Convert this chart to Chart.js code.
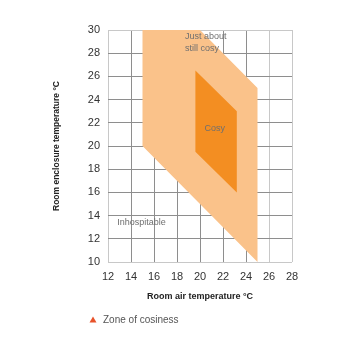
<!DOCTYPE html>
<html>
<head>
<meta charset="utf-8">
<script src="https://cdn.jsdelivr.net/npm/chart.js@4"></script>
<style>
  html, body { margin: 0; padding: 0; background: #fff; }
  #wrap { width: 351px; height: 351px; }
</style>
</head>
<body>
<div id="wrap"><canvas id="chart" width="351" height="351"></canvas></div>
<script>
// zone outlines (air temp x, enclosure temp y)
const outerZoneX = [15, 20, 25, 25, 15, 15];
const outerZoneY = [30, 30, 25, 10, 20, 30];
const innerZoneX = [19.6, 23.2, 23.2, 19.6, 19.6];
const innerZoneY = [26.5, 23, 16, 19.5, 26.5];

// text labels inside the plot
const noteText = ['Just about', 'still cosy', 'Cosy', 'Inhospitable'];
const noteX = [18.7, 18.7, 20.4, 12.8];
const noteY = [29.4, 28.4, 21.5, 13.4];

const xTicks = [12, 14, 16, 18, 20, 22, 24, 26, 28];
const yTicks = [10, 12, 14, 16, 18, 20, 22, 24, 26, 28, 30];
const legendText = 'Zone of cosiness';

const sans = "'Liberation Sans', Arial, sans-serif";

function toPoints(xs, ys) {
    return xs.map((x, i) => ({x: x, y: ys[i]}));
}

// Notes drawn at data positions
const notesPlugin = {
    id: 'notes',
    afterDatasetsDraw(chart) {
        const ctx = chart.ctx;
        const xs = chart.scales.x, ys = chart.scales.y;
        ctx.save();
        ctx.font = '9px ' + sans;
        ctx.fillStyle = '#6f6f6f';
        ctx.textBaseline = 'middle';
        ctx.textAlign = 'left';
        noteText.forEach((t, i) => {
            ctx.fillText(t, xs.getPixelForValue(noteX[i]), ys.getPixelForValue(noteY[i]));
        });
        ctx.restore();
    }
};

// small legend under the axis title
const legendPlugin = {
    id: 'cosyLegend',
    afterDraw(chart) {
        const ctx = chart.ctx;
        ctx.save();
        ctx.fillStyle = '#e8532b';
        ctx.beginPath();
        ctx.moveTo(93, 316.5);
        ctx.lineTo(96.5, 322.5);
        ctx.lineTo(89.5, 322.5);
        ctx.closePath();
        ctx.fill();
        ctx.font = '10px ' + sans;
        ctx.fillStyle = '#555';
        ctx.textBaseline = 'middle';
        ctx.fillText(legendText, 103, 320.5);
        ctx.restore();
    }
};

function gridColorX(c) {
    const v = c.tick && c.tick.value;
    if (v === 12 || v >= 26) return '#c8c8c8';
    return '#8e8e8e';
}
function gridColorY(c) {
    const v = c.tick && c.tick.value;
    if (v === 30 || v === 10) return '#c8c8c8';
    return '#8e8e8e';
}

new Chart(document.getElementById('chart'), {
    type: 'line',
    data: {
        datasets: [{
            label: 'Just about still cosy',
            data: toPoints(outerZoneX, outerZoneY),
            backgroundColor: '#fac28a',
            borderColor: '#fac28a',
            borderWidth: 0,
            pointRadius: 0,
            fill: 'shape',
            order: 2
        }, {
            label: 'Cosy',
            data: toPoints(innerZoneX, innerZoneY),
            backgroundColor: '#f38e22',
            borderColor: '#f38e22',
            borderWidth: 0,
            pointRadius: 0,
            fill: 'shape',
            order: 1
        }]
    },
    options: {
        responsive: false,
        animation: false,
        layout: { padding: { left: 52, right: 59, top: 30, bottom: 49 } },
        plugins: {
            legend: { display: false },
            tooltip: { enabled: false }
        },
        scales: {
            x: {
                type: 'linear',
                min: 12, max: 28,
                z: 1,
                afterBuildTicks: (s) => { s.ticks = xTicks.map(v => ({value: v})); },
                ticks: { color: '#333', font: { size: 11, family: sans }, padding: 8 },
                grid: { color: gridColorX, drawTicks: false },
                border: { display: false },
                title: {
                    display: true,
                    text: 'Room air temperature °C',
                    color: '#222',
                    font: { size: 9, family: sans, weight: 'bold' },
                    padding: { top: 0, bottom: 0 }
                }
            },
            y: {
                type: 'linear',
                min: 10, max: 30,
                z: 1,
                afterBuildTicks: (s) => { s.ticks = yTicks.map(v => ({value: v})); },
                afterFit: (s) => { s.width = 56; },
                ticks: { color: '#333', font: { size: 11, family: sans }, padding: 8 },
                grid: { color: gridColorY, drawTicks: false },
                border: { display: false },
                title: {
                    display: true,
                    text: 'Room enclosure temperature °C',
                    color: '#222',
                    font: { size: 8.5, family: sans, weight: 'bold' },
                    padding: { top: 0, bottom: 0 }
                }
            }
        }
    },
    plugins: [notesPlugin, legendPlugin]
});
</script>
</body>
</html>
